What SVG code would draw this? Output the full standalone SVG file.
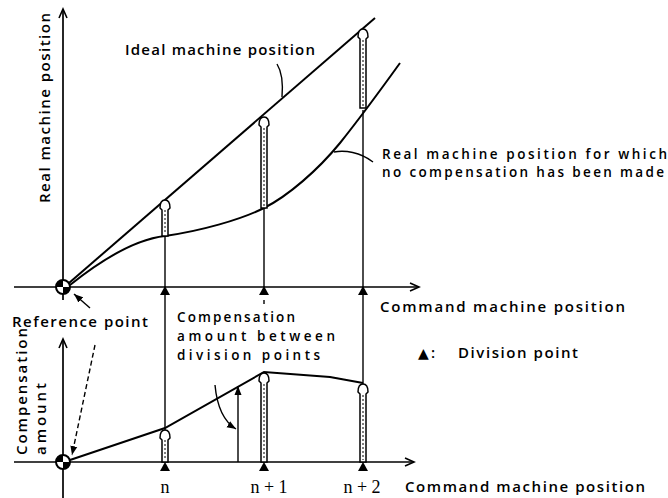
<svg xmlns="http://www.w3.org/2000/svg" width="668" height="498" viewBox="0 0 668 498">
<defs>
<marker id="ah" markerWidth="12" markerHeight="10" refX="10" refY="5" orient="auto" markerUnits="userSpaceOnUse">
<path d="M1,1 L10,5 L1,9" fill="none" stroke="#000" stroke-width="1.6"/>
</marker>
<marker id="af" markerWidth="10" markerHeight="8" refX="9" refY="4" orient="auto" markerUnits="userSpaceOnUse">
<path d="M0,0.5 L9,4 L0,7.5 Z" fill="#000"/>
</marker>
<g id="tri"><path d="M0,0 L5,9 L-5,9 Z" fill="#000"/></g>
<g id="refpt">
<circle r="7" fill="#fff" stroke="#000" stroke-width="2"/>
<path d="M0,0 L-7,0 A7,7 0 0 1 0,-7 Z" fill="#000"/>
<path d="M0,0 L7,0 A7,7 0 0 1 0,7 Z" fill="#000"/>
</g>
</defs>
<style>
.t{font-family:"Open Sans","DejaVu Sans","Liberation Sans",sans-serif;font-size:15px;font-weight:600;fill:#000}
.m{font-size:13.5px}
.s{font-family:"Liberation Serif","DejaVu Serif",serif;font-size:18px;fill:#000}
.ax{stroke:#000;stroke-width:1.7;fill:none}
.cv{stroke:#000;stroke-width:2;fill:none}
.th{stroke:#000;stroke-width:1.4;fill:none}
.ha{fill:#fff;stroke:#000;stroke-width:1.5}
.hd{stroke:#000;stroke-width:1;stroke-dasharray:2 2;fill:none}
</style>
<rect width="668" height="498" fill="#fff"/>

<g id="axes">
<line class="ax" x1="63" y1="300" x2="63" y2="9" marker-end="url(#ah)"/>
<line class="ax" x1="14" y1="287" x2="419" y2="287" marker-end="url(#ah)"/>
<line class="ax" x1="63" y1="498" x2="63" y2="339" marker-end="url(#ah)"/>
<line class="ax" x1="14" y1="462" x2="414" y2="462" marker-end="url(#ah)"/>
</g>

<g id="curves">
<path id="ideal" class="cv" d="M69,283 L375,18"/>
<path id="real" class="cv" d="M70,285 C95,265 130,240 165,236 C200,231 240,220 264,208 C288,196 318,170 340,143 C360,118 382,88 400,63"/>
<path id="comp" class="cv" d="M70,460 L165,428 L264,372 L330,377 L363,383"/>
</g>

<g id="connectors">
<line class="th" x1="165" y1="236" x2="165" y2="430"/>
<line class="th" x1="264" y1="208" x2="264" y2="287"/>
<line class="th" x1="264" y1="300" x2="264" y2="304"/>
<line class="th" x1="363" y1="110" x2="363" y2="384"/>
<path class="th" d="M277,64 C282,72 283,85 282,97"/>
<path class="th" d="M373,162 C360,152 345,150 334,152"/>
<line class="th" x1="90" y1="308" x2="74" y2="294" marker-end="url(#af)"/>
<line class="th" x1="95" y1="345" x2="72" y2="455" stroke-dasharray="5 3" marker-end="url(#af)"/>
<path class="th" d="M215,385 Q218,418 236,429" marker-end="url(#af)"/>
<line class="th" x1="238" y1="462" x2="238" y2="386" marker-end="url(#af)"/>
</g>

<g id="comp-arrows">
<g id="a1">
<path class="ha" d="M162,236 L162,210 L160,208 Q160,200 165,200 Q170,200 170,208 L168,210 L168,236 Z"/>
<line class="hd" x1="165" y1="210" x2="165" y2="234"/>
</g>
<g id="a2">
<path class="ha" d="M261,208 L261,127 L259,125 Q259,117 264,117 Q269,117 269,125 L267,127 L267,208 Z"/>
<line class="hd" x1="264" y1="128" x2="264" y2="206"/>
</g>
<g id="a3">
<path class="ha" d="M360,108 L360,39 L358,37 Q358,29 363,29 Q368,29 368,37 L366,39 L366,108 Z"/>
<line class="hd" x1="363" y1="40" x2="363" y2="106"/>
</g>
<g id="b1">
<path class="ha" d="M162,462 L162,440 L160,438 Q160,430 165,430 Q170,430 170,438 L168,440 L168,462 Z"/>
<line class="hd" x1="165" y1="440" x2="165" y2="460"/>
</g>
<g id="b2">
<path class="ha" d="M261,462 L261,383 L259,381 Q259,373 264,373 Q269,373 269,381 L267,383 L267,462 Z"/>
<line class="hd" x1="264" y1="384" x2="264" y2="460"/>
</g>
<g id="b3">
<path class="ha" d="M360,462 L360,394 L358,392 Q358,384 363,384 Q368,384 368,392 L366,394 L366,462 Z"/>
<line class="hd" x1="363" y1="395" x2="363" y2="460"/>
</g>
</g>

<g id="division-points">
<use href="#tri" x="165" y="286"/>
<use href="#tri" x="264" y="286"/>
<use href="#tri" x="363" y="286"/>
<use href="#tri" x="165" y="462"/>
<use href="#tri" x="264" y="462"/>
<use href="#tri" x="363" y="462"/>
</g>

<g id="reference-points">
<use href="#refpt" x="63" y="287"/>
<use href="#refpt" x="63" y="462"/>
</g>

<g id="labels">
<text class="t" transform="translate(50,108) rotate(-90)" text-anchor="middle" textLength="190" lengthAdjust="spacing">Real machine position</text>
<text class="t" x="125" y="55" textLength="190" lengthAdjust="spacing">Ideal machine position</text>
<text class="t m" x="382" y="159" textLength="285" lengthAdjust="spacing">Real machine position for which</text>
<text class="t m" x="382" y="177" textLength="282" lengthAdjust="spacing">no compensation has been made</text>
<text class="t" x="380" y="312" textLength="245" lengthAdjust="spacing">Command machine position</text>
<text class="t" y="358"><tspan x="418" font-size="14">▲</tspan><tspan x="431">:</tspan><tspan x="458" textLength="120" lengthAdjust="spacing">Division point</tspan></text>
<text class="t" x="12" y="327" textLength="136" lengthAdjust="spacing">Reference point</text>
<text class="t m" x="177" y="322" textLength="118" lengthAdjust="spacing">Compensation</text>
<text class="t m" x="177" y="341" textLength="158" lengthAdjust="spacing">amount between</text>
<text class="t m" x="177" y="360" textLength="143" lengthAdjust="spacing">division points</text>
<text class="t" transform="translate(27,455) rotate(-90)" textLength="127" lengthAdjust="spacing">Compensation</text>
<text class="t" transform="translate(46,455) rotate(-90)" textLength="72" lengthAdjust="spacing">amount</text>
<text class="s" x="165" y="493" text-anchor="middle">n</text>
<text class="s" x="269" y="493" text-anchor="middle">n + 1</text>
<text class="s" x="362" y="493" text-anchor="middle">n + 2</text>
<text class="t" x="405" y="492" textLength="240" lengthAdjust="spacing">Command machine position</text>
</g>
</svg>
